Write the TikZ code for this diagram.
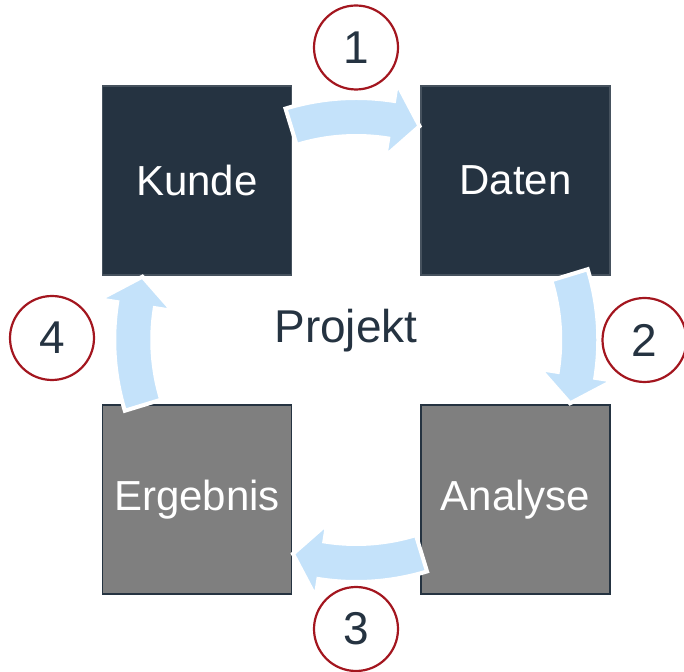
\documentclass[tikz,border=0pt]{standalone}
\usepackage{fontspec}
\setmainfont{Liberation Sans}
\usetikzlibrary{calc}

\definecolor{navy}{HTML}{253341}
\definecolor{slate}{HTML}{7F7F7F}
\definecolor{flowblue}{HTML}{C4E2FA}
\definecolor{ringred}{HTML}{A3161F}

\begin{document}
\begin{tikzpicture}[
    x=1pt, y=1pt,
    box/.style={minimum width=189pt, minimum height=189pt, inner sep=0pt,
        line width=1.2pt, text=white, font=\fontsize{42}{48}\selectfont},
    dark/.style={box, fill=navy, draw=navy!85!white},
    grey/.style={box, fill=slate, draw=navy},
    ring/.style={circle, draw=ringred, line width=2.2pt, minimum size=84pt,
        inner sep=0pt, text=navy, font=\fontsize{46}{50}\selectfont},
    flow/.style={fill=flowblue, draw=white, line width=4pt, line join=miter}
]
\useasboundingbox (0,0) rectangle (684,671);

% Center
\coordinate (O) at (356.25,331);

% =========================
% Boxes
% =========================
\node[dark] (kunde) at (197,490.5) {Kunde};
\node[dark] (daten) at (515.5,490.5) {Daten};
\node[grey] (analyse) at (515.5,171.5) {Analyse};
\node[grey] (ergebnis) at (197,171.5) {Ergebnis};

% =========================
% Curved arrows
% =========================
\foreach \r in {0,90,180,270}
{
    % shaft on radius 223, head ends at the tip
    \filldraw[flow]
        ($(O)+({107-\r}:204)$) arc[start angle={107-\r}, end angle={81-\r}, radius=204]
        -- ($(O)+({81-\r}:186)$) -- ($(O)+({73.5-\r}:223)$) -- ($(O)+({81-\r}:260)$)
        -- ($(O)+({81-\r}:242)$) arc[start angle={81-\r}, end angle={107-\r}, radius=242]
        -- cycle;
}

% Label in the middle
\node[text=navy, font=\fontsize{46}{50}\selectfont, anchor=base] (projekt) at (346,328) {Projekt};

% =========================
% Numbered steps
% =========================
\node[ring] (step1) at (356,623.5) {1};
\node[ring] (step2) at (644.5,331) {2};
\node[ring] (step3) at (356,42) {3};
\node[ring] (step4) at (52,333) {4};

\end{tikzpicture}
\end{document}
